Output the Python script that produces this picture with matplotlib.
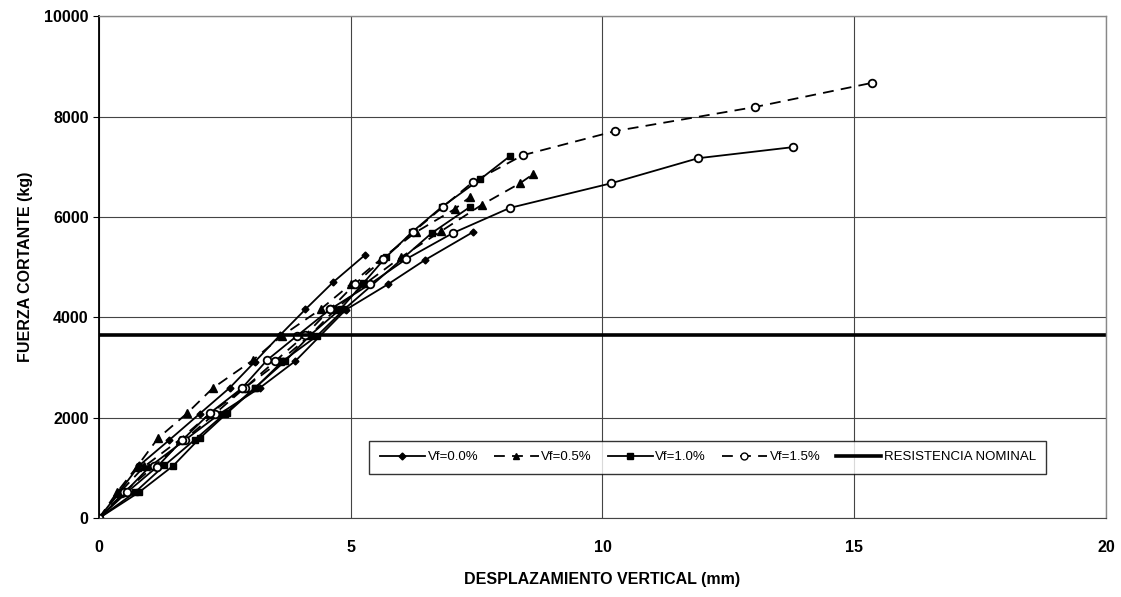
import matplotlib
matplotlib.use("Agg")
import matplotlib.pyplot as plt
from matplotlib.lines import Line2D

plt.rcParams['font.family'] = ['Liberation Sans', 'DejaVu Sans']

# Vf=0.0% (solid, diamonds) - two specimens
x00a = [0, 0.4, 0.8, 1.4, 2.0, 2.6, 3.1, 3.6, 4.1, 4.65, 5.28]
y00a = [0, 520, 1050, 1560, 2080, 2600, 3120, 3650, 4160, 4700, 5240]
x00b = [0, 0.5, 1.0, 1.7, 2.4, 3.2, 3.9, 4.9, 5.74, 6.47, 7.43]
y00b = [0, 500, 1020, 1550, 2080, 2600, 3130, 4150, 4660, 5140, 5700]

# Vf=0.5% (dashed, triangles) - two specimens
x05a = [0, 0.36, 0.75, 1.17, 1.75, 2.26, 3.06, 3.63, 4.4, 5.0, 5.6, 6.3, 7.07, 7.37]
y05a = [0, 520, 1020, 1590, 2090, 2590, 3150, 3630, 4160, 4660, 5160, 5700, 6160, 6400]
x05b = [0, 0.4, 0.9, 1.6, 2.2, 2.9, 3.6, 4.2, 4.7, 5.3, 6.0, 6.8, 7.6, 8.36, 8.62]
y05b = [0, 500, 1030, 1560, 2080, 2600, 3130, 3650, 4160, 4680, 5200, 5720, 6240, 6670, 6850]

# Vf=1.0% (solid, squares) - two specimens
x10a = [0, 0.72, 1.3, 1.9, 2.5, 3.1, 3.7, 4.2, 4.8, 5.25, 5.7, 6.22, 6.81, 7.57, 8.16]
y10a = [0, 520, 1050, 1560, 2080, 2600, 3130, 3650, 4170, 4680, 5200, 5700, 6200, 6750, 7210]
x10b = [0, 0.8, 1.47, 2.0, 2.54, 3.1, 3.65, 4.33, 4.87, 6.61, 7.37]
y10b = [0, 520, 1040, 1590, 2090, 2590, 3130, 3630, 4160, 5680, 6200]

# Vf=1.5% (open circles) - dashed and solid specimens
x15a = [0, 0.5, 1.1, 1.7, 2.3, 2.9, 3.5, 4.1, 4.59, 5.08, 5.64, 6.24, 6.83, 7.43, 8.42, 10.25, 13.03, 15.35]
y15a = [0, 520, 1040, 1560, 2080, 2600, 3130, 3650, 4160, 4660, 5160, 5700, 6200, 6700, 7230, 7710, 8190, 8670]
x15b = [0, 0.56, 1.15, 1.65, 2.2, 2.84, 3.34, 3.93, 4.59, 5.38, 6.1, 7.03, 8.16, 10.17, 11.9, 13.78]
y15b = [0, 520, 1020, 1550, 2090, 2590, 3150, 3630, 4160, 4660, 5160, 5680, 6180, 6670, 7170, 7390]

nominal = 3650

labels = ["Vf=0.0%", "Vf=0.5%", "Vf=1.0%", "Vf=1.5%", "RESISTENCIA NOMINAL"]

fig = plt.figure(figsize=(11.21, 5.97), dpi=100)
ax = fig.add_axes([0.0883, 0.132, 0.8983, 0.841])

dash = (0, (6, 4))
kw = dict(color='black', lw=1.3)
ax.plot(x00a, y00a, marker='D', ms=3.5, mfc='black', ls='-', **kw)
ax.plot(x00b, y00b, marker='D', ms=3.5, mfc='black', ls='-', **kw)
ax.plot(x05a, y05a, marker='^', ms=6, mfc='black', ls=dash, **kw)
ax.plot(x05b, y05b, marker='^', ms=6, mfc='black', ls=dash, **kw)
ax.plot(x10a, y10a, marker='s', ms=5, mfc='black', ls='-', **kw)
ax.plot(x10b, y10b, marker='s', ms=5, mfc='black', ls='-', **kw)
ax.plot(x15a, y15a, marker='o', ms=5.5, mfc='white', mew=1.3, ls=dash, **kw)
ax.plot(x15b, y15b, marker='o', ms=5.5, mfc='white', mew=1.3, ls='-', **kw)
ax.axhline(nominal, color='black', lw=2.6)

ax.set_xlim(0, 20)
ax.set_ylim(0, 10000)
ax.set_xticks([0, 5, 10, 15, 20])
ax.set_yticks([0, 2000, 4000, 6000, 8000, 10000])
ax.grid(True, color='#444444', lw=0.8)
ax.set_axisbelow(True)
for s in ['top', 'right']:
    ax.spines[s].set_color('#888888')
    ax.spines[s].set_linewidth(1.0)
ax.spines['left'].set_linewidth(1.3)
ax.spines['bottom'].set_color('#444444')
ax.tick_params(axis='x', length=0, pad=16, labelsize=11.5)
ax.tick_params(axis='y', length=4, labelsize=11.5)
for t in ax.get_xticklabels() + ax.get_yticklabels():
    t.set_fontweight('bold')

ax.set_xlabel("DESPLAZAMIENTO VERTICAL (mm)", fontsize=11.5, fontweight='bold', labelpad=12)
ax.set_ylabel("FUERZA CORTANTE (kg)", fontsize=11.5, fontweight='bold', labelpad=8)

handles = [
    Line2D([], [], color='black', lw=1.3, marker='D', ms=3.5),
    Line2D([], [], color='black', lw=1.3, ls=dash, marker='^', ms=5),
    Line2D([], [], color='black', lw=1.3, marker='s', ms=4.5),
    Line2D([], [], color='black', lw=1.3, ls=dash, marker='o', ms=5, mfc='white'),
    Line2D([], [], color='black', lw=2.6),
]
leg = ax.legend(handles, labels, ncol=5, loc='lower left', bbox_to_anchor=(0.262, 0.075),
                frameon=True, fancybox=False, edgecolor='black', fontsize=9.5,
                handlelength=3.4, columnspacing=1.2, handletextpad=0.2, borderpad=0.8)
leg.get_frame().set_linewidth(1.0)

fig.savefig("out.png", dpi=100)
